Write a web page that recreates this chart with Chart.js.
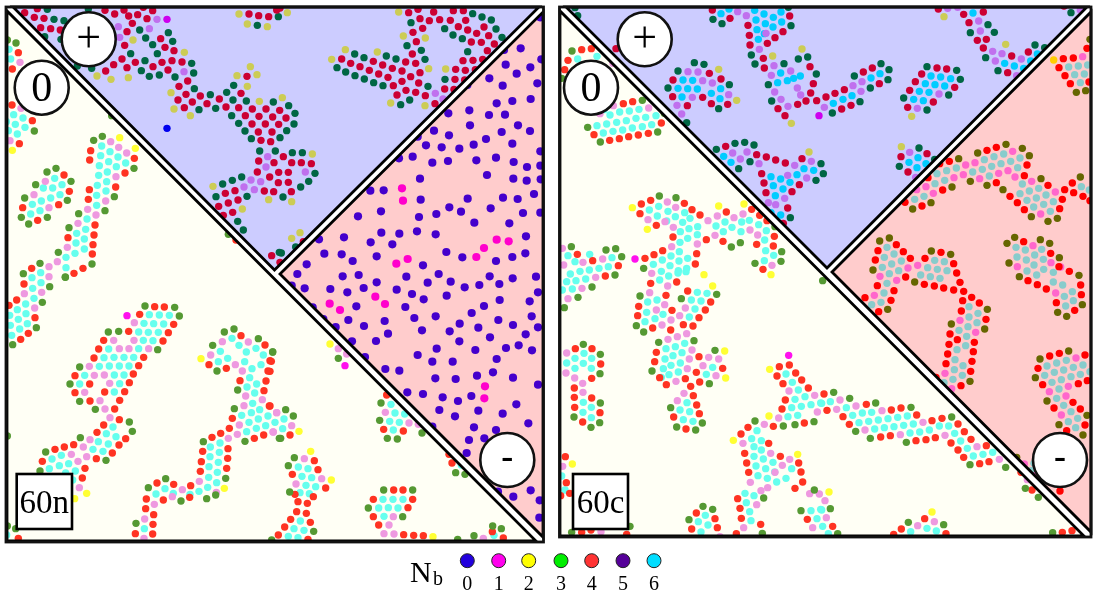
<!DOCTYPE html>
<html>
<head>
<meta charset="utf-8">
<title>Nb</title>
<style>
html, body { margin: 0; padding: 0; background: #fff; }
canvas { display: block; }
</style>
<script src="https://cdn.jsdelivr.net/npm/chart.js@4"></script>
</head>
<body>
<canvas id="grafico" width="1100" height="601"></canvas>
<script>
/**********************************************
 *
 * Sites, per crop (units = 1/3 px inside each crop)
 *
 * ****************************************/
var crops = { a: [0, 0], b: [270, 0], c: [0, 270], d: [270, 270], e: [555, 0], f: [820, 0], g: [555, 270], h: [820, 270] };

// left panel, + region
var lp_a_0 = [[501,385]];
var lp_a_1 = [[501,58]];
var lp_a_2 = [[399,120],[553,157],[291,228],[333,238],[385,233],[513,278],[522,327],[571,347],[711,227],[751,200],[771,224],[742,259],[778,304],[639,559],[806,599],[727,627],[717,42],[742,72],[802,80]];
var lp_a_3 = [[142,28],[265,27],[162,58],[192,62],[419,90],[505,98],[437,114],[518,124],[458,134],[392,161],[472,161],[435,182],[575,190],[424,212],[581,219],[525,231],[448,229],[478,225],[275,205],[232,198],[183,118],[134,110],[583,266],[631,284],[647,325],[597,329],[701,256],[680,277],[699,300],[739,303],[820,306],[695,347],[716,370],[735,393],[754,416],[779,453],[826,453],[725,531],[697,541],[668,552],[648,590],[741,589],[713,664],[730,690],[772,76],[838,757]];
var lp_a_4 = [[74,38],[112,26],[315,31],[372,30],[430,22],[458,32],[103,52],[132,55],[344,42],[386,48],[413,44],[441,56],[122,83],[152,86],[181,90],[397,70],[381,95],[482,116],[374,136],[495,142],[522,152],[366,177],[516,182],[486,187],[546,186],[406,187],[341,194],[459,200],[381,203],[504,210],[317,213],[563,243],[537,259],[558,283],[534,300],[601,288],[577,306],[553,323],[621,311],[658,297],[741,229],[723,280],[678,321],[716,323],[757,327],[798,327],[736,347],[777,349],[818,351],[756,372],[796,372],[775,396],[816,396],[783,421],[812,425],[776,483],[822,488],[772,516],[809,531],[705,572],[676,580],[793,573],[821,575],[714,600],[685,609],[656,619],[698,637],[670,646],[815,767],[747,42],[776,47],[806,50],[830,30]];
var lp_a_5 = [[471,58],[355,80],[448,86],[359,112],[552,215],[803,470],[798,501],[753,540],[782,545],[732,561],[763,569]];
var lp_b_2 = [[52,38],[386,36],[400,108],[466,114],[322,156],[226,149],[185,178],[476,206],[527,207],[362,309],[465,317],[37,293],[127,462],[65,605],[65,715],[90,698]];
var lp_b_3 = [[25,50],[608,41],[636,51],[664,60],[423,68],[524,86],[678,87],[549,105],[696,112],[577,116],[411,137],[454,151],[593,155],[465,178],[378,177],[349,168],[282,173],[254,162],[201,203],[227,216],[255,227],[283,237],[311,248],[339,257],[474,259],[525,238],[419,300],[392,314],[56,317],[75,340],[72,372],[50,392],[30,413],[67,458],[97,458],[135,520],[116,544],[92,561],[39,591],[77,741],[34,759]];
var lp_b_4 = [[30,24],[416,38],[444,28],[491,36],[550,32],[580,32],[450,56],[478,62],[509,59],[541,61],[587,61],[458,85],[565,80],[593,90],[642,81],[429,97],[620,100],[656,107],[439,125],[604,126],[634,127],[673,132],[652,152],[427,162],[579,182],[609,181],[638,178],[407,186],[437,190],[215,177],[242,190],[270,200],[310,184],[338,195],[367,205],[298,211],[326,222],[396,213],[422,230],[450,218],[557,208],[586,211],[616,209],[354,232],[396,244],[446,249],[370,257],[555,238],[584,240],[408,271],[437,277],[524,267],[552,268],[381,285],[466,287],[495,311],[29,331],[48,354],[26,373],[40,470],[65,488],[94,488],[124,491],[26,517],[55,517],[25,548],[55,547],[64,575],[100,725],[30,787]];
var lp_b_5 = [[496,280],[519,297],[106,516]];

// left panel, 0 region
var lz_a_2 = [[37,451],[359,413],[406,445]];
var lz_a_3 = [[22,120],[48,129],[103,393],[281,421],[307,409],[402,505],[168,505],[141,516],[213,544],[107,554],[74,594],[202,601],[343,590],[236,641],[315,632],[207,683],[175,757],[120,790],[70,821],[276,792],[196,831],[64,652],[86,672],[142,652],[335,347],[685,703]];
var lz_a_4 = [[55,158],[37,207],[36,315],[97,362],[58,431],[272,452],[403,475],[269,480],[375,519],[192,525],[208,574],[347,561],[268,569],[176,614],[265,598],[68,623],[113,661],[285,675],[204,713],[282,705],[279,734],[277,762],[249,805],[222,820],[95,805],[708,720]];
var lz_a_5 = [[60,187],[63,325],[30,422],[332,425],[356,442],[380,459],[136,544],[102,584],[348,530],[147,623],[317,603],[263,628],[288,645],[234,670],[202,742],[147,800],[172,785],[147,830]];
var lz_a_6 = [[27,148],[32,177],[41,344],[69,354],[19,365],[46,373],[75,382],[25,392],[52,402],[305,438],[330,455],[302,467],[326,485],[354,471],[377,489],[298,497],[349,500],[322,516],[296,526],[320,545],[164,535],[186,554],[130,564],[158,564],[292,556],[318,573],[124,603],[152,594],[180,584],[97,613],[290,586],[120,632],[92,642],[290,616],[261,657],[230,700],[257,688],[228,729],[253,717],[225,760],[253,747],[198,772],[198,803],[122,818],[96,833]];
var lz_c_1 = [[381,137]];
var lz_c_2 = [[603,266],[673,655],[224,686],[260,670]];
var lz_c_3 = [[196,22],[149,50],[127,97],[109,173],[38,224],[435,108],[524,112],[538,138],[325,186],[356,184],[473,239],[239,291],[210,342],[239,394],[286,418],[388,456],[397,484],[241,503],[137,546],[318,571],[120,603],[673,186],[702,177],[775,206],[818,246],[638,226],[651,303],[713,360],[703,416],[735,514],[838,505],[610,515],[497,626],[445,653],[543,693],[620,686],[647,675],[677,625],[408,760],[22,768],[47,776],[22,498]];
var lz_c_4 = [[50,90],[72,42],[27,106],[105,143],[85,190],[62,208],[464,110],[493,111],[419,133],[521,163],[505,188],[386,184],[489,213],[311,211],[296,237],[431,262],[282,264],[416,287],[400,312],[225,317],[269,342],[388,338],[225,368],[314,366],[374,365],[359,391],[270,393],[344,417],[358,449],[311,465],[377,506],[291,487],[357,525],[337,549],[289,566],[221,524],[193,531],[165,538],[127,574],[255,595],[247,624],[723,197],[795,225],[627,284],[679,295],[810,272],[804,303],[720,332],[798,333],[792,362],[808,408],[697,445],[688,475],[791,495],[763,505],[662,490],[636,502],[684,536],[608,544],[683,565],[604,575],[680,595],[601,604],[572,647],[521,643],[471,639],[439,687],[490,690],[569,682],[437,716],[461,734],[459,763],[406,791],[458,792],[55,805]];
var lz_c_5 = [[125,67],[73,71],[104,114],[403,158],[402,211],[341,211],[358,236],[387,236],[446,236],[268,289],[283,316],[313,315],[329,340],[254,367],[300,392],[315,417],[330,443],[270,509],[250,531],[214,553],[234,574],[260,560],[667,215],[745,216],[632,255],[706,284],[727,303],[737,378],[787,389],[732,407],[830,428],[718,465],[712,493],[685,505],[820,486],[598,634],[547,659],[649,667],[517,680],[463,703],[434,747],[432,805],[238,653]];
var lz_c_6 = [[98,55],[123,38],[102,85],[77,102],[52,119],[29,136],[78,131],[55,148],[82,161],[31,166],[59,177],[35,196],[448,134],[478,135],[508,136],[432,160],[461,161],[491,162],[416,186],[445,187],[475,187],[430,211],[459,212],[326,237],[416,236],[312,263],[342,262],[372,262],[401,262],[298,289],[328,288],[358,288],[387,288],[254,316],[343,315],[372,315],[239,342],[359,341],[343,366],[319,491],[339,471],[348,500],[295,515],[325,522],[279,538],[309,544],[184,556],[156,567],[178,587],[206,581],[148,596],[197,609],[226,603],[218,630],[696,205],[717,226],[739,246],[768,235],[790,255],[661,244],[683,265],[655,275],[734,275],[756,296],[783,284],[749,323],[770,342],[741,351],[764,369],[758,400],[779,419],[725,436],[754,428],[804,438],[747,457],[775,447],[769,475],[797,467],[740,485],[660,519],[631,531],[658,547],[630,560],[655,577],[627,590],[652,607],[626,622],[650,638],[623,652],[597,664],[570,673],[495,656],[520,670],[468,672],[433,776],[20,795]];
var lz_d_1 = [[225,287]];
var lz_d_2 = [[180,222],[87,484],[122,544],[184,630],[489,800]];
var lz_d_3 = [[205,265],[8,246],[47,419],[70,438],[32,505],[333,399],[329,451],[456,489],[352,505],[382,507],[73,563],[55,587],[59,666],[557,608],[585,613],[341,660],[428,660],[295,714],[398,740],[131,784],[563,808],[612,797],[694,776],[668,768],[5,810]];
var lz_d_4 = [[4,274],[0,304],[350,375],[0,408],[60,495],[341,478],[400,483],[133,572],[144,599],[67,613],[167,654],[537,553],[546,579],[371,660],[399,660],[310,688],[428,688],[414,713],[310,740],[326,765],[401,794],[431,796],[460,797],[84,695],[112,700],[130,680],[75,673],[80,725],[109,730],[62,748],[121,757],[44,771],[25,795],[114,808],[700,804],[667,785]];
var lz_d_5 = [[205,236],[230,252],[20,428],[65,467],[9,486],[346,427],[417,459],[445,463],[103,566],[155,626],[78,642],[342,791],[372,792],[357,765],[370,740],[640,805]];
var lz_d_6 = [[363,403],[375,429],[404,432],[42,447],[15,457],[38,476],[359,454],[388,457],[370,480],[85,591],[114,596],[96,619],[125,623],[108,646],[137,650],[90,668],[118,671],[339,688],[369,688],[399,688],[326,714],[355,713],[384,714],[342,739],[91,753],[72,776],[102,781],[55,799],[84,803],[672,796],[574,585]];

// left panel, - region
var lm_b_0 = [[810,52],[702,150],[752,145],[814,178],[707,194],[781,202],[740,221],[658,235],[698,257],[802,250],[592,255],[782,297],[680,310],[727,303],[598,331],[535,340],[657,345],[705,344],[600,376],[744,376],[780,393],[695,396],[492,392],[537,406],[648,417],[443,410],[468,436],[515,442],[568,446],[611,434],[727,431],[811,454],[387,475],[428,470],[487,488],[534,483],[619,481],[678,473],[731,486],[771,501],[811,497],[651,525],[450,536],[730,536],[770,542],[812,538],[301,572],[341,571],[792,582],[593,596],[452,599],[699,593],[743,597],[333,634],[538,622],[573,635],[662,625],[264,649],[499,642],[447,651],[759,639],[811,638],[613,668],[718,670],[441,694],[334,698],[388,701],[497,703],[222,712],[768,709],[302,727],[367,733],[147,718],[163,761],[215,763],[248,783],[320,769],[529,756],[577,772],[678,783],[727,771],[766,760],[459,796],[110,793]];
var lm_b_1 = [[396,565],[399,602],[680,719],[716,724],[642,744],[619,771],[413,777],[379,791]];
var lm_d_0 = [[82,12],[218,19],[266,15],[409,20],[506,12],[659,19],[728,25],[798,20],[320,37],[473,38],[542,35],[584,52],[628,45],[688,42],[65,47],[104,55],[181,57],[281,54],[380,59],[232,67],[426,72],[530,77],[804,67],[461,88],[689,90],[779,94],[259,109],[406,111],[642,108],[128,112],[605,129],[497,139],[785,139],[433,144],[344,153],[235,150],[685,150],[160,147],[569,161],[282,168],[625,173],[729,165],[804,172],[197,171],[456,181],[539,184],[767,193],[354,191],[660,202],[246,214],[318,213],[568,214],[746,226],[708,234],[500,236],[616,240],[786,241],[443,255],[285,261],[680,267],[487,275],[548,275],[346,297],[388,302],[669,307],[496,325],[557,327],[621,317],[729,323],[804,344],[412,367],[459,372],[518,382],[604,378],[564,393],[739,403],[508,420],[625,422],[698,431],[555,439],[487,470],[612,472],[775,460],[678,480],[597,510],[643,505],[590,549],[684,665],[730,680],[782,661],[809,691],[808,743],[760,755]];
var lm_d_1 = [[316,80],[345,102],[179,101],[210,120],[645,349],[643,385]];

// right panel, + region
var rp_e_1 = [[792,347]];
var rp_e_2 = [[491,208],[653,168],[741,147],[545,301],[709,370],[762,456]];
var rp_e_3 = [[474,58],[501,71],[708,77],[589,165],[600,192],[418,188],[447,193],[369,213],[730,177],[758,171],[687,191],[784,222],[523,254],[339,264],[640,254],[650,303],[491,326],[832,339],[395,368],[484,448],[540,430],[569,427],[597,435],[585,485],[551,506],[798,491],[805,521],[783,541],[706,653],[700,22],[60,23],[68,47]];
var rp_e_4 = [[472,30],[525,55],[704,48],[579,76],[684,95],[583,106],[660,113],[637,130],[585,135],[625,175],[628,204],[765,200],[775,251],[767,279],[463,220],[498,237],[354,240],[353,290],[443,292],[397,317],[469,311],[518,313],[785,302],[813,291],[669,326],[728,313],[690,347],[753,303],[512,439],[605,464],[634,471],[691,489],[741,476],[662,480],[620,521],[627,549],[733,554],[633,578],[711,575],[698,624],[685,670],[183,146]];
var rp_e_5 = [[548,35],[574,47],[633,100],[613,148],[657,197],[399,215],[429,216],[707,213],[649,226],[443,242],[472,249],[727,264],[659,276],[737,285],[521,284],[678,298],[412,292],[366,316],[699,319],[380,342],[808,322],[533,459],[576,456],[612,491],[556,477],[769,484],[719,496],[698,526],[755,534],[640,608],[689,595],[662,614]];
var rp_e_6 = [[498,41],[522,27],[599,31],[627,42],[678,36],[655,52],[603,60],[631,71],[680,66],[606,89],[654,81],[628,101],[610,118],[384,240],[413,241],[677,219],[736,228],[697,242],[668,248],[716,235],[497,266],[369,265],[398,266],[427,267],[469,280],[381,291],[495,296],[506,469],[528,487],[835,310],[648,530],[677,537],[705,547],[655,557],[684,567],[661,587],[648,638],[677,645],[726,524],[776,511],[747,506]];
var rp_f_2 = [[372,50],[557,133],[275,349],[244,440]];
var rp_f_3 = [[504,74],[451,98],[523,97],[497,173],[534,212],[645,135],[674,143],[753,38],[103,228],[183,191],[207,209],[204,239],[151,264],[120,305],[321,200],[410,211],[421,238],[251,294],[386,285],[321,330],[297,444],[238,499],[344,478]];
var rp_f_4 = [[355,27],[431,43],[490,36],[447,68],[472,121],[499,118],[490,144],[575,168],[625,156],[563,218],[130,216],[157,204],[45,280],[73,269],[178,251],[93,316],[65,327],[305,222],[351,204],[380,207],[286,245],[269,271],[404,262],[263,322],[340,306],[243,470],[321,461],[264,516],[732,18]];
var rp_f_5 = [[383,25],[413,22],[476,63],[481,93],[518,154],[546,161],[526,183],[604,177],[590,227],[99,257],[126,245],[123,274],[357,282],[292,325],[269,457],[287,532],[781,30]];
var rp_f_6 = [[459,39],[554,190],[583,198],[632,183],[611,205],[652,162],[69,298],[96,287],[153,234],[180,221],[333,228],[362,231],[392,236],[316,251],[345,254],[374,258],[298,274],[327,277],[281,298],[310,302],[294,473],[267,487],[291,503],[318,491]];

// right panel, 0 region
var rz_e_1 = [[240,777]];
var rz_e_2 = [[232,623],[277,688],[491,618],[567,612],[447,824],[648,824]];
var rz_e_3 = [[51,153],[262,301],[98,382],[136,426],[308,396],[20,235],[313,588],[363,593],[49,740],[153,750],[182,746],[200,770],[266,805],[529,741],[556,728],[680,755],[600,790],[678,784],[328,340],[660,680]];
var rz_e_4 = [[80,149],[109,146],[39,181],[29,209],[205,311],[233,305],[319,369],[117,404],[164,421],[193,416],[221,410],[250,405],[280,400],[259,612],[287,601],[388,610],[411,629],[255,641],[435,645],[304,676],[514,636],[590,628],[614,646],[636,662],[67,763],[113,782],[323,752],[297,764],[270,775],[354,711],[425,761],[421,792],[454,719],[504,724],[605,733],[658,709],[655,738],[624,808],[190,797]];
var rz_e_5 = [[174,190],[175,317],[281,324],[135,341],[337,606],[279,659],[330,665],[362,622],[459,662],[487,648],[537,653],[564,642],[585,690],[355,682],[480,706],[350,740],[427,732],[608,705],[22,745],[26,795],[84,787],[143,777],[651,796]];
var rz_e_6 = [[126,169],[68,177],[147,329],[252,328],[194,336],[223,333],[165,345],[303,347],[243,355],[214,362],[185,367],[155,372],[126,377],[272,352],[262,380],[232,384],[203,390],[174,394],[145,399],[290,374],[283,630],[311,619],[339,634],[361,650],[307,648],[335,663],[389,638],[383,667],[405,655],[376,695],[402,686],[428,680],[483,678],[510,666],[560,666],[611,674],[583,661],[398,715],[375,727],[427,704],[373,755],[398,775],[348,768],[322,780],[372,783],[295,793],[345,797],[370,812],[395,805],[39,767],[104,763],[171,773],[60,785],[132,805],[103,810],[75,814],[46,822],[160,800],[632,752],[628,782],[656,766],[634,692],[558,695],[531,682],[505,695],[629,720]];
var rz_g_1 = [[701,256]];
var rz_g_2 = [[473,48],[509,243],[512,324],[644,298],[642,438],[535,511],[728,553],[52,582]];
var rz_g_3 = [[180,15],[111,51],[69,82],[28,113],[255,78],[244,167],[266,186],[379,86],[485,73],[311,217],[417,212],[480,241],[291,303],[463,341],[85,223],[136,253],[135,311],[136,399],[57,441],[134,458],[108,472],[347,413],[442,459],[365,471],[422,480],[600,453],[685,468],[720,464],[777,455],[626,684],[738,722],[622,790],[402,749],[444,709],[473,718],[225,769],[50,787],[778,660]];
var rz_g_4 = [[151,18],[287,40],[365,36],[398,63],[467,96],[333,76],[251,109],[351,121],[451,120],[248,137],[432,143],[293,174],[385,164],[414,168],[347,180],[61,236],[111,236],[137,282],[110,325],[58,354],[110,384],[58,382],[135,428],[59,412],[83,456],[299,275],[304,247],[432,260],[503,295],[424,307],[314,323],[391,326],[434,336],[334,344],[407,349],[415,377],[425,405],[356,441],[433,431],[393,477],[673,290],[703,285],[722,309],[666,318],[740,330],[684,341],[760,354],[691,390],[681,417],[748,459],[655,469],[579,472],[558,492],[641,520],[569,550],[676,559],[575,579],[731,579],[581,607],[738,606],[743,636],[720,655],[31,560],[34,638],[44,670],[17,677],[548,686],[555,715],[559,745],[544,791],[424,729],[480,746],[410,777],[487,773],[617,763],[757,748],[80,787],[215,793],[108,780]];
var rz_g_5 = [[290,10],[122,22],[81,55],[39,86],[284,68],[338,48],[329,104],[304,120],[374,137],[391,114],[348,150],[321,165],[339,208],[367,200],[395,191],[411,240],[403,267],[461,262],[491,267],[444,287],[397,296],[483,317],[363,334],[387,370],[367,392],[35,249],[33,309],[59,324],[83,340],[84,367],[628,463],[671,444],[564,520],[787,426],[779,376],[702,363],[647,550],[704,568],[682,586],[660,607],[586,637],[638,653],[764,671],[605,704],[566,773],[773,773],[793,672],[495,800],[138,785],[618,662],[23,589]];
var rz_g_6 = [[319,4],[341,18],[369,9],[314,30],[393,5],[35,35],[63,32],[92,27],[22,60],[52,57],[427,67],[456,70],[409,90],[438,93],[420,117],[403,141],[278,96],[306,90],[275,127],[300,146],[324,133],[270,155],[333,236],[361,230],[389,220],[330,267],[354,257],[381,248],[325,296],[348,286],[376,279],[319,322],[342,314],[370,306],[60,265],[87,250],[110,265],[35,279],[85,280],[60,295],[109,295],[473,292],[454,313],[85,397],[109,412],[84,427],[109,443],[396,398],[375,420],[404,425],[385,449],[414,454],[451,736],[430,755],[459,765],[438,786],[693,312],[712,337],[730,360],[720,388],[750,380],[710,413],[739,409],[768,404],[797,399],[699,440],[728,436],[606,482],[590,506],[619,512],[597,530],[619,540],[597,559],[625,567],[654,577],[603,588],[632,596],[609,617],[659,606],[710,596],[637,625],[665,636],[693,625],[570,670],[597,677],[574,698],[584,725],[588,752],[768,722],[797,718],[786,746],[30,660],[20,618]];
var rz_h_2 = [[27,666],[336,726]];
var rz_h_3 = [[8,32],[41,367],[89,385],[167,399],[273,412],[395,441],[107,484],[151,505],[259,517],[450,584],[557,592],[616,655],[655,682],[31,716],[53,791],[265,757],[371,764],[698,788]];
var rz_h_4 = [[12,372],[139,403],[214,420],[243,414],[290,435],[21,421],[69,440],[88,463],[336,452],[366,445],[414,462],[433,485],[182,501],[211,497],[288,512],[318,509],[346,503],[393,519],[414,540],[453,508],[499,527],[431,562],[479,581],[507,575],[38,769],[244,777],[314,746],[378,791],[221,793],[727,787],[756,782],[603,607],[636,660]];
var rz_h_5 = [[60,390],[108,408],[50,418],[186,422],[309,457],[135,480],[241,494],[375,496],[471,530],[538,568],[612,583],[622,629],[15,692],[19,743],[293,767],[343,755]];
var rz_h_6 = [[31,395],[5,400],[79,413],[127,429],[155,427],[98,436],[204,446],[233,442],[262,438],[146,454],[175,450],[280,462],[251,466],[222,470],[193,473],[358,468],[386,468],[117,458],[164,477],[328,480],[270,489],[299,486],[404,490],[422,513],[442,535],[518,547],[489,553],[460,558],[5,720],[8,769],[25,791],[321,775],[272,785],[349,783]];

// right panel, - region
var rm_f_2 = [[701,180]];
var rm_f_3 = [[810,118],[558,433],[607,445],[628,467],[473,459],[416,476],[451,544],[396,561],[501,556],[549,569],[663,536],[781,531],[333,608],[278,627],[634,650],[684,664],[712,655],[769,277],[797,272],[179,723],[208,714],[334,753],[392,763],[159,810],[584,712],[561,730],[567,789],[661,719],[689,730],[718,773],[777,826],[598,830]];
var rm_f_4 = [[730,176],[760,174],[717,203],[735,227],[751,251],[807,246],[801,145],[501,451],[529,442],[359,491],[388,484],[621,495],[324,533],[613,527],[368,570],[529,548],[570,589],[684,556],[757,549],[734,569],[761,578],[789,589],[255,607],[306,618],[592,608],[613,629],[727,598],[719,626],[810,602],[174,752],[229,734],[250,755],[166,780],[271,775],[315,775],[363,757],[401,791],[410,819],[611,725],[692,760],[748,814],[257,831],[717,800]];
var rm_f_5 = [[788,170],[578,454],[437,495],[465,488],[430,524],[402,533],[564,512],[536,520],[479,536],[585,531],[635,544],[318,560],[290,569],[340,580],[706,576],[662,642],[639,737],[264,804],[293,796],[592,800],[693,788],[722,801],[180,829]];
var rm_f_6 = [[746,201],[775,198],[803,195],[764,224],[793,222],[781,248],[522,470],[551,462],[493,479],[572,484],[600,474],[380,512],[409,504],[515,499],[543,491],[351,521],[458,516],[487,508],[593,503],[374,541],[508,528],[345,551],[607,552],[628,573],[656,565],[678,585],[600,581],[649,594],[621,601],[671,613],[700,605],[641,621],[691,634],[312,589],[284,598],[784,560],[808,570],[201,742],[222,762],[193,772],[244,783],[215,792],[187,802],[236,812],[208,821],[344,781],[373,785],[323,803],[352,808],[381,812],[302,825],[331,830],[360,835],[588,742],[616,750],[665,748],[644,765],[591,771],[619,780],[670,778],[642,795],[621,813],[671,808],[650,825],[700,817]];
var rm_h_3 = [[284,36],[203,118],[502,118],[394,162],[494,177],[450,334],[787,104],[713,127],[740,139],[660,267],[746,243],[646,323],[681,393],[801,436],[717,464],[789,495],[590,562]];
var rm_h_4 = [[313,43],[343,48],[371,54],[401,60],[420,37],[431,64],[172,47],[222,62],[135,83],[213,91],[176,125],[624,32],[652,44],[679,57],[455,82],[428,92],[478,99],[424,123],[498,148],[390,192],[412,209],[463,217],[387,223],[460,245],[383,252],[456,274],[378,281],[452,304],[348,322],[423,347],[782,45],[784,74],[709,98],[764,121],[689,258],[718,250],[795,255],[654,295],[802,332],[668,344],[775,341],[759,397],[702,414],[781,417],[795,465],[740,482],[720,663]];
var rm_h_5 = [[230,31],[163,76],[420,151],[467,187],[375,310],[395,356],[707,69],[768,264],[745,349],[688,365],[738,378],[724,435],[613,582],[583,583],[646,617]];
var rm_h_6 = [[201,40],[192,69],[155,104],[183,97],[447,110],[474,130],[447,141],[471,158],[417,181],[444,170],[440,199],[411,239],[437,227],[405,269],[429,287],[403,299],[427,316],[399,328],[372,338],[700,36],[728,45],[733,79],[757,65],[760,92],[737,108],[710,279],[739,271],[789,285],[681,288],[731,300],[760,292],[703,307],[781,313],[674,316],[753,320],[724,329],[696,337],[810,305],[717,357],[710,385],[731,406],[753,425],[773,445],[745,455],[767,473],[634,602],[642,580]];

// N_b legend
var nbLabels = ['0', '1', '2', '3', '4', '5', '6'];
var nbX = [467.3, 498.7, 528.7, 561, 591.7, 623, 654];
var nbY = [560.7, 560.7, 560.7, 560.7, 560.7, 560.7, 560.7];
var nbColors = ['#2200dd', '#ff00ee', '#ffff00', '#00ee00', '#ff3333', '#550099', '#00ddff'];

// the three tinted triangles of each panel
var triangles = {
	lz: [[7, 11], [7, 541], [536, 541]],
	lp: [[13, 7], [539, 7], [274.5, 270]],
	lm: [[543, 12], [543, 537], [280, 274]],
	rz: [[560, 11], [560, 536], [1084, 536]],
	rp: [[566, 7], [1087, 7], [827, 268]],
	rm: [[1091, 12], [1091, 532], [832, 272]]
};
var tint = { p: '#ccccff', z: '#fffff5', m: '#ffcccc' };
var siteColors = {
	p: ['#0000ee', '#cc00ee', '#cccc55', '#006644', '#cc0033', '#c070ee', '#00ccff'],
	z: ['#2200dd', '#ff11ee', '#ffff33', '#559933', '#ff3322', '#ee99e0', '#66ffee'],
	m: ['#4400cc', '#ff00cc', '#ffcc00', '#666600', '#ff0000', '#ff66cc', '#88cccc']
};

var seriesList = [
	[lp_a_0,'a','lp',0],[lp_a_1,'a','lp',1],[lp_a_2,'a','lp',2],[lp_a_3,'a','lp',3],[lp_a_4,'a','lp',4],[lp_a_5,'a','lp',5],
	[lp_b_2,'b','lp',2],[lp_b_3,'b','lp',3],[lp_b_4,'b','lp',4],[lp_b_5,'b','lp',5],
	[lz_a_2,'a','lz',2],[lz_a_3,'a','lz',3],[lz_a_4,'a','lz',4],[lz_a_5,'a','lz',5],[lz_a_6,'a','lz',6],
	[lz_c_1,'c','lz',1],[lz_c_2,'c','lz',2],[lz_c_3,'c','lz',3],[lz_c_4,'c','lz',4],[lz_c_5,'c','lz',5],[lz_c_6,'c','lz',6],
	[lz_d_1,'d','lz',1],[lz_d_2,'d','lz',2],[lz_d_3,'d','lz',3],[lz_d_4,'d','lz',4],[lz_d_5,'d','lz',5],[lz_d_6,'d','lz',6],
	[lm_b_0,'b','lm',0],[lm_b_1,'b','lm',1],[lm_d_0,'d','lm',0],[lm_d_1,'d','lm',1],
	[rp_e_1,'e','rp',1],[rp_e_2,'e','rp',2],[rp_e_3,'e','rp',3],[rp_e_4,'e','rp',4],[rp_e_5,'e','rp',5],[rp_e_6,'e','rp',6],
	[rp_f_2,'f','rp',2],[rp_f_3,'f','rp',3],[rp_f_4,'f','rp',4],[rp_f_5,'f','rp',5],[rp_f_6,'f','rp',6],
	[rz_e_1,'e','rz',1],[rz_e_2,'e','rz',2],[rz_e_3,'e','rz',3],[rz_e_4,'e','rz',4],[rz_e_5,'e','rz',5],[rz_e_6,'e','rz',6],
	[rz_g_1,'g','rz',1],[rz_g_2,'g','rz',2],[rz_g_3,'g','rz',3],[rz_g_4,'g','rz',4],[rz_g_5,'g','rz',5],[rz_g_6,'g','rz',6],
	[rz_h_2,'h','rz',2],[rz_h_3,'h','rz',3],[rz_h_4,'h','rz',4],[rz_h_5,'h','rz',5],[rz_h_6,'h','rz',6],
	[rm_f_2,'f','rm',2],[rm_f_3,'f','rm',3],[rm_f_4,'f','rm',4],[rm_f_5,'f','rm',5],[rm_f_6,'f','rm',6],
	[rm_h_3,'h','rm',3],[rm_h_4,'h','rm',4],[rm_h_5,'h','rm',5],[rm_h_6,'h','rm',6]
];

var datasets = seriesList.map(function (s) {
	var off = crops[s[1]];
	return {
		label: s[2] + ' ' + s[3],
		region: s[2],
		data: s[0].map(function (p) { return { x: p[0] / 3 + off[0], y: p[1] / 3 + off[1] }; }),
		backgroundColor: siteColors[s[2].charAt(1)][s[3]],
		borderWidth: 0,
		// the empty-neighbour sites in the - region are drawn a little larger
		pointRadius: s[2].charAt(1) === 'm' && s[3] < 2 ? 4.1 : 3.7
	};
});

// legend dots go through the same scales
datasets.push({
	label: 'Nb',
	data: nbX.map(function (x, i) { return { x: x, y: nbY[i] }; }),
	backgroundColor: nbColors,
	borderColor: '#222',
	borderWidth: 1,
	pointRadius: 7
});

function tracePolygon(chart, pts) {
	var ctx = chart.ctx;
	ctx.beginPath();
	pts.forEach(function (p, i) {
		var x = chart.scales.x.getPixelForValue(p[0]);
		var y = chart.scales.y.getPixelForValue(p[1]);
		if (i === 0) { ctx.moveTo(x, y); } else { ctx.lineTo(x, y); }
	});
	ctx.closePath();
}

function circleLabel(ctx, x, y, text, font, dy) {
	ctx.beginPath();
	ctx.arc(x, y, 27, 0, Math.PI * 2);
	ctx.fillStyle = '#fff';
	ctx.fill();
	ctx.lineWidth = 2.6;
	ctx.strokeStyle = '#111';
	ctx.stroke();
	ctx.fillStyle = '#000';
	ctx.font = font;
	ctx.textAlign = 'center';
	ctx.textBaseline = 'middle';
	ctx.fillText(text, x, y + dy);
}

function boxLabel(ctx, x, y, w, h, text) {
	ctx.fillStyle = '#fff';
	ctx.fillRect(x, y, w, h);
	ctx.lineWidth = 2.6;
	ctx.strokeStyle = '#000';
	ctx.strokeRect(x, y, w, h);
	ctx.fillStyle = '#000';
	ctx.font = '33px "Liberation Serif"';
	ctx.textAlign = 'center';
	ctx.textBaseline = 'middle';
	ctx.fillText(text, x + w / 2, y + h / 2 + 3);
}

var panelPlugin = {
	id: 'panelPlugin',
	beforeDatasetsDraw: function (chart) {
		var ctx = chart.ctx;
		ctx.save();
		Object.keys(triangles).forEach(function (k) {
			tracePolygon(chart, triangles[k]);
			ctx.fillStyle = tint[k.charAt(1)];
			ctx.fill();
		});
		ctx.restore();
	},
	beforeDatasetDraw: function (chart, args) {
		var region = chart.data.datasets[args.index].region;
		if (!region) { return; }
		chart.ctx.save();
		tracePolygon(chart, triangles[region]);
		chart.ctx.clip();
	},
	afterDatasetDraw: function (chart, args) {
		if (chart.data.datasets[args.index].region) { chart.ctx.restore(); }
	},
	afterDatasetsDraw: function (chart) {
		var ctx = chart.ctx;
		ctx.save();
		// triangle edges
		Object.keys(triangles).forEach(function (k) {
			tracePolygon(chart, triangles[k]);
			ctx.lineWidth = 2.8;
			ctx.lineJoin = 'miter';
			ctx.strokeStyle = '#000';
			ctx.stroke();
		});
		// panel frames
		ctx.lineWidth = 2.8;
		ctx.strokeStyle = '#111';
		ctx.strokeRect(6, 7, 537.5, 535);
		ctx.strokeRect(559.5, 7, 531.5, 530);

		circleLabel(ctx, 88.7, 39.3, '+', '44px "Liberation Serif"', 1);
		circleLabel(ctx, 41.7, 87.7, '0', '42px "Liberation Serif"', 2);
		circleLabel(ctx, 507.3, 460, '-', 'bold 36px "Liberation Serif"', -1);
		circleLabel(ctx, 644.7, 39.3, '+', '44px "Liberation Serif"', 1);
		circleLabel(ctx, 591, 87.7, '0', '42px "Liberation Serif"', 2);
		circleLabel(ctx, 1060, 460, '-', 'bold 36px "Liberation Serif"', -1);
		boxLabel(ctx, 16.7, 474, 55.3, 55, '60n');
		boxLabel(ctx, 573, 474, 55, 55, '60c');

		// legend captions
		ctx.fillStyle = '#000';
		ctx.textBaseline = 'alphabetic';
		ctx.textAlign = 'left';
		ctx.font = '30px "Liberation Serif"';
		ctx.fillText('N', 410, 582);
		ctx.font = '20px "Liberation Serif"';
		ctx.fillText('b', 433, 585);
		ctx.font = '20px "Liberation Serif"';
		ctx.textAlign = 'center';
		nbLabels.forEach(function (t, i) {
			ctx.fillText(t, chart.scales.x.getPixelForValue(nbX[i]), 590);
		});
		ctx.restore();
	}
};

var ctx = document.getElementById('grafico').getContext('2d');
var chart = new Chart(ctx, {
	type: 'scatter',
	data: { datasets: datasets },
	plugins: [panelPlugin],
	options: {
		responsive: false,
		animation: false,
		layout: { padding: 0, autoPadding: false },
		plugins: { legend: { display: false }, tooltip: { enabled: false } },
		scales: {
			x: { type: 'linear', min: 0, max: 1100, display: false },
			y: { type: 'linear', min: 0, max: 601, reverse: true, display: false }
		}
	}
});
</script>
</body>
</html>
